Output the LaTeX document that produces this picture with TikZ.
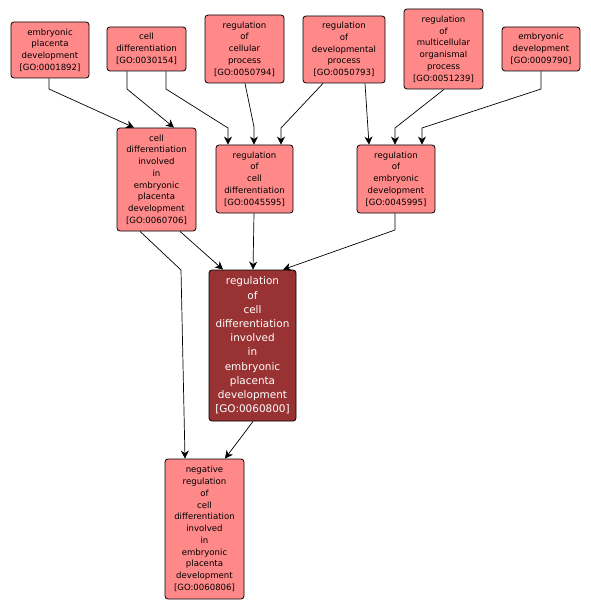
\documentclass[tikz,border=0pt]{standalone}
\usepackage{fontspec}
\setmainfont{DejaVu Sans}
\usetikzlibrary{arrows.meta}
\definecolor{lightgo}{RGB}{255,137,137}
\definecolor{darkgo}{RGB}{153,51,51}
\begin{document}
\begin{tikzpicture}[x=1bp,y=-1bp,
  gobox/.style={draw=black, line width=0.8bp, rounded corners=3bp, fill=lightgo, align=center, inner sep=0pt,
     font=\fontsize{8.6}{11.8}\selectfont, text=black},
  mainbox/.style={gobox, fill=darkgo, text=white, font=\fontsize{10.5}{14.26}\selectfont},
  arr/.style={draw=black, line width=0.7bp, -{Stealth[length=8bp,width=8bp,inset=2.5bp]}}]
\useasboundingbox (0,0) rectangle (591,610);
\fill[white] (0,0) rectangle (591,610);

\node[gobox, minimum width=78bp, minimum height=56bp] (n1) at (50,50) {embryonic\\placenta\\development\\{[GO:0001892]}};
\node[gobox, minimum width=79bp, minimum height=44bp] (n2) at (146.5,49) {cell\\differentiation\\{[GO:0030154]}};
\node[gobox, minimum width=79bp, minimum height=68bp] (n3) at (244.5,49) {regulation\\of\\cellular\\process\\{[GO:0050794]}};
\node[gobox, minimum width=82bp, minimum height=67bp] (n4) at (344,49.5) {regulation\\of\\developmental\\process\\{[GO:0050793]}};
\node[gobox, minimum width=79bp, minimum height=80bp] (n5) at (443.5,49) {regulation\\of\\multicellular\\organismal\\process\\{[GO:0051239]}};
\node[gobox, minimum width=78bp, minimum height=44bp] (n6) at (541,49) {embryonic\\development\\{[GO:0009790]}};
\node[gobox, minimum width=79bp, minimum height=103bp] (n7) at (156.5,179.5) {cell\\differentiation\\involved\\in\\embryonic\\placenta\\development\\{[GO:0060706]}};
\node[gobox, minimum width=77bp, minimum height=68bp] (n8) at (254.5,179) {regulation\\of\\cell\\differentiation\\{[GO:0045595]}};
\node[gobox, minimum width=78bp, minimum height=68bp] (n9) at (396,179) {regulation\\of\\embryonic\\development\\{[GO:0045995]}};
\node[mainbox, minimum width=87bp, minimum height=151bp] (n10) at (252.5,345.5) {regulation\\of\\cell\\differentiation\\involved\\in\\embryonic\\placenta\\development\\{[GO:0060800]}};
\node[gobox, minimum width=79bp, minimum height=140bp] (n11) at (204.5,529) {negative\\regulation\\of\\cell\\differentiation\\involved\\in\\embryonic\\placenta\\development\\{[GO:0060806]}};

\draw[arr] (n1.south -| 49,0) -- (49,89) -- (n7.north -| 134,0);
\draw[arr] (n2.south -| 127,0) -- (127,89) -- (n7.north -| 174,0);
\draw[arr] (n2.south -| 166,0) -- (166,89) -- (228,128) -- (n8.north -| 228,0);
\draw[arr] (n3.south -| 245,0) -- (254,127) -- (n8.north -| 254,0);
\draw[arr] (n4.south -| 323,0) -- (281,128) -- (n8.north -| 281,0);
\draw[arr] (n4.south -| 365,0) -- (n9.north -| 369,0);
\draw[arr] (n5.south -| 444,0) -- (395,128) -- (n9.north -| 395,0);
\draw[arr] (n6.south -| 541,0) -- (541,89) -- (422,128) -- (n9.north -| 422,0);
\draw[arr] (n9.south -| 395,0) -- (395,230) -- (n10.north -| 283,0);
\draw[arr] (n8.south -| 254,0) -- (n10.north -| 253,0);
\draw[arr] (n7.south -| 180,0) -- (n10.north -| 223,0);
\draw[arr] (n7.south -| 140,0) -- (181,270) -- (n11.north -| 185,0);
\draw[arr] (n10.south -| 253,0) -- (n11.north -| 225,0);
\end{tikzpicture}
\end{document}
